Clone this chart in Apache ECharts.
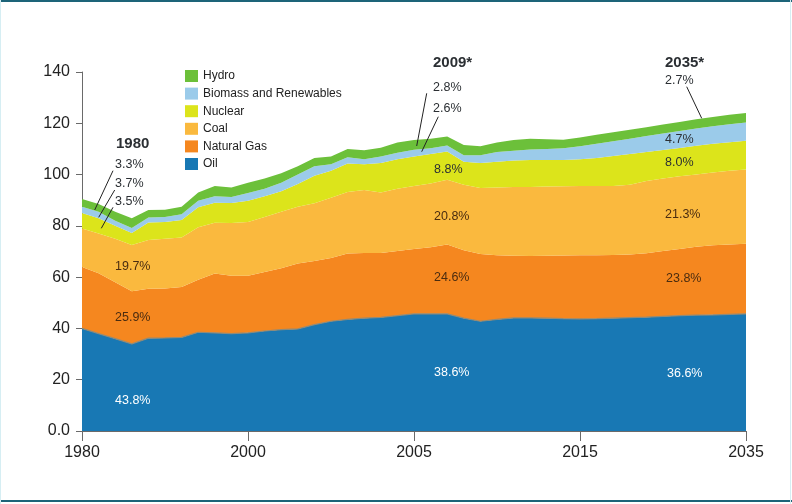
<!DOCTYPE html>
<html>
<head>
<meta charset="utf-8">
<script src="https://cdn.jsdelivr.net/npm/echarts@6/dist/echarts.min.js"></script>
<style>
html,body{margin:0;padding:0;background:#fff;}
#frame{position:relative;width:792px;height:504px;overflow:hidden;background:#fff;}
#chart{position:absolute;left:0;top:0;width:792px;height:504px;}
.edge{position:absolute;background:#1d6479;}
</style>
</head>
<body>
<div id="frame">
  <div id="chart"></div>
  <div class="edge" style="left:0;top:0;width:792px;height:2px;"></div>
  <div class="edge" style="left:0;top:500px;width:792px;height:2px;"></div>
  <div class="edge" style="left:0;top:0;width:1px;height:504px;background:#d6eef3;"></div>
  <div class="edge" style="left:790px;top:0;width:1px;height:504px;background:#d6eef3;"></div>
</div>
<script>
// ---- data ----
const periods = ['0','1','2','3','4','5','6','7','8','9','10','11','12','13','14','15','16','17','18','19','20',
                 '21','22','23','24','25','26','27','28','29','30','31','32','33','34','35','36','37','38','39','40'];
const tickLabels = {0:'1980', 10:'2000', 20:'2005', 30:'2015', 40:'2035'};
const legendNames = ['Hydro','Biomass and Renewables','Nuclear','Coal','Natural Gas','Oil'];

const oil     = [40,38,36,34,36.2,36.3,36.5,38.5,38.3,38,38.3,39,39.5,39.8,41.5,42.8,43.5,44,44.3,45,45.7,
                 45.7,45.7,44,42.8,43.5,44.1,44.1,44,43.8,43.7,43.8,44,44.2,44.4,44.7,45,45.2,45.3,45.5,45.7];
const gas     = [24,23.5,22,20.5,19.3,19.3,19.7,20.5,23.1,22.5,22.2,23,24,25.5,24.8,24.7,25.7,25.4,25.1,25.2,25.3,
                 26,27,26.5,26.2,25,24.2,24.1,24.3,24.6,24.8,24.7,24.6,24.6,24.9,25.5,26,26.7,27.1,27.2,27.3];
const coal    = [15,15.5,17,18,19,19.4,19.3,20.5,19.8,20.6,21,21.5,22,22.2,22.5,23.5,24,24.6,23.6,24.3,24.5,
                 24.8,25.3,25.5,25.8,26.5,26.9,27,27,27,27,27,26.9,27.2,28.2,28.3,28.3,28.1,28.4,28.8,29];
const nuclear = [6,6,5,4.7,6.8,6.5,6.8,7.8,7.8,7.8,8.3,8,8,8.8,10.7,10.5,11.1,10,11.5,11.5,11.5,
                 11.5,11,9,9.7,10,10.3,10.5,10.4,10.3,10.5,11,11.7,12,11.3,11.1,11.1,11.2,11.2,11.1,11.2];
const biomass = [2.5,2.5,2,2,2,2,2.2,2.5,2.5,2.4,3,3,3.3,3.7,3.7,2.5,2.5,2,2.5,2.5,2.7,
                 2.3,2.3,2.5,3,3.8,3.8,4.1,4.3,4.6,5,5.5,5.8,6,6.2,6.4,6.6,6.8,6.8,7,7.1];
const hydro   = [3,3,3.5,3.8,2.9,2.8,3,3.2,4,3.7,4,4,3.7,3.2,3.3,3,3.2,3.5,3.5,4,3.8,
                 3.7,3.5,4,3.5,3.7,4.2,4.2,3.8,3.3,3.5,3.5,3.5,3.5,3.5,3.5,3.5,3.6,3.7,3.7,3.7];

// ---- styles ----
const FONT = '"Liberation Sans", Arial, sans-serif';
const colors = {
  'Oil':'#1878b4', 'Natural Gas':'#f5871f', 'Coal':'#fab93e',
  'Nuclear':'#dce41b', 'Biomass and Renewables':'#9bcbea', 'Hydro':'#6cc03a'
};
const BROWN = '#4a2c10', DARK = '#2b2f33', WHITE = '#ffffff';

// annotations (pixel positions of text, not data marks)
const notes = [
  {t:'1980', x:116, y:143.5, bold:true},
  {t:'3.3%', x:115, y:165},
  {t:'3.7%', x:115, y:183.5},
  {t:'3.5%', x:115, y:201.5},
  {t:'19.7%', x:115, y:267, c:BROWN},
  {t:'25.9%', x:115, y:318, c:BROWN},
  {t:'43.8%', x:115, y:401, c:WHITE},
  {t:'2009*', x:433, y:63, bold:true},
  {t:'2.8%', x:433, y:87.5},
  {t:'2.6%', x:433, y:108.5},
  {t:'8.8%', x:434, y:169.5},
  {t:'20.8%', x:434, y:217, c:BROWN},
  {t:'24.6%', x:434, y:278, c:BROWN},
  {t:'38.6%', x:434, y:373, c:WHITE},
  {t:'2035*', x:665, y:63, bold:true},
  {t:'2.7%', x:665, y:80.5},
  {t:'4.7%', x:665, y:139.5},
  {t:'8.0%', x:665, y:162.5},
  {t:'21.3%', x:665, y:215, c:BROWN},
  {t:'23.8%', x:666, y:279, c:BROWN},
  {t:'36.6%', x:667, y:374, c:WHITE}
];
const leaders = [
  [113,170.7,94.7,210],[114.7,190,98.7,217.3],[113,207.3,101.3,228.3],
  [426.7,93.3,416.7,146],[438.3,116.7,421.7,151.7],
  [686.7,86.7,701.7,118.3]
];

const graphics = [];
notes.forEach(n => graphics.push({
  type:'text', x:n.x, y:n.y, silent:true, z:100,
  style:{text:n.t, fill:n.c || DARK, verticalAlign:'middle', align:'left',
         font:(n.bold ? 'bold 15px ' : '12.5px ') + FONT}
}));
leaders.forEach(l => graphics.push({
  type:'line', silent:true, z:100,
  shape:{x1:l[0], y1:l[1], x2:l[2], y2:l[3]},
  style:{stroke:'#222', lineWidth:1}
}));

function mk(name, data, extra){
  return Object.assign({
    name, type:'line', stack:'total', data, symbol:'none', smooth:false,
    itemStyle:{color:colors[name]},
    lineStyle:{width:0, color:colors[name]},
    areaStyle:{color:colors[name], opacity:1},
    emphasis:{disabled:true}
  }, extra || {});
}

const showTick = (i) => tickLabels[i] !== undefined;

const chart = echarts.init(document.getElementById('chart'), null, {renderer:'canvas'});
chart.setOption({
  animation:false,
  backgroundColor:'transparent',
  textStyle:{fontFamily:FONT},
  grid:{left:82, right:46, top:72, bottom:73, containLabel:false},
  legend:{
    data:legendNames, orient:'vertical', left:185, top:70, padding:0,
    itemWidth:13, itemHeight:12, itemGap:5.6, icon:'rect', selectedMode:false,
    textStyle:{fontSize:12, color:'#222', fontFamily:FONT, lineHeight:12}
  },
  xAxis:{
    type:'category', boundaryGap:false, data:periods,
    axisLine:{lineStyle:{color:'#6a6a6a', width:1}},
    axisTick:{show:true, interval:(i)=>showTick(i), length:10, lineStyle:{color:'#6a6a6a'}},
    axisLabel:{interval:(i)=>showTick(i), formatter:(v,i)=>tickLabels[i] || '',
               fontSize:16, color:'#222', margin:14, fontFamily:FONT},
    splitLine:{show:false}
  },
  yAxis:{
    type:'value', min:0, max:140, interval:20,
    axisLine:{show:true, lineStyle:{color:'#6a6a6a', width:1}},
    axisTick:{show:true, length:6, lineStyle:{color:'#6a6a6a'}},
    axisLabel:{fontSize:16, color:'#222', margin:12, fontFamily:FONT,
               formatter:(v)=> v === 0 ? '0.0' : String(v)},
    splitLine:{show:false}
  },
  series:[
    mk('Oil', oil, {lineStyle:{width:1.2, color:'#8f8a78'}}),
    mk('Natural Gas', gas),
    mk('Coal', coal),
    mk('Nuclear', nuclear),
    mk('Biomass and Renewables', biomass),
    mk('Hydro', hydro)
  ],
  graphic:graphics
});
</script>
</body>
</html>
